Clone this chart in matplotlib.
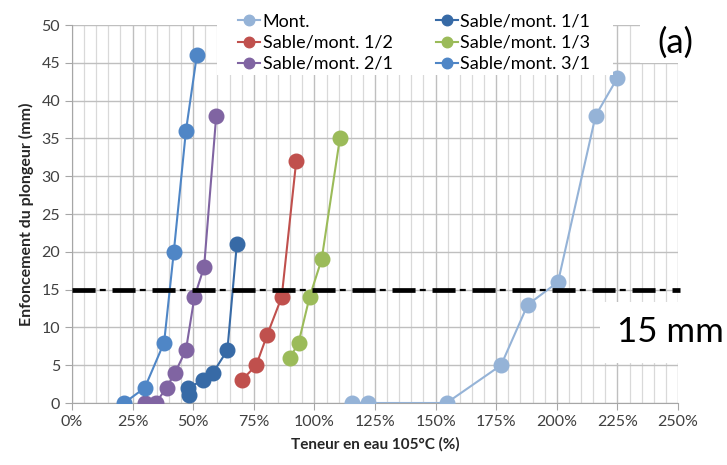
import matplotlib.pyplot as plt
from matplotlib.patches import Rectangle
from matplotlib.ticker import MultipleLocator, FuncFormatter

plt.rcParams['font.family'] = ['Lato', 'DejaVu Sans']
plt.rcParams['lines.scale_dashes'] = False

# data (water content in %, penetration in mm)
mont_x = [115.5, 122, 154.5, 177, 188, 200.5, 216, 225]
mont_y = [0, 0, 0, 5, 13, 16, 38, 43]

s12_x = [70, 76, 80.5, 86.5, 92.5]
s12_y = [3, 5, 9, 14, 32]

s21_x = [30, 34.5, 39, 42.5, 47, 50.5, 54.5, 59.5]
s21_y = [0, 0, 2, 4, 7, 14, 18, 38]

s11_x = [48.3, 47.9, 54, 58.2, 64.1, 68]
s11_y = [1, 2, 3, 4, 7, 21]

s13_x = [90, 93.5, 98, 103, 110.5]
s13_y = [6, 8, 14, 19, 35]

s31_x = [21.5, 30, 38, 42, 47, 51.5]
s31_y = [0, 2, 8, 20, 36, 46]

limit_mm = 15

series = [
    ('Mont.', mont_x, mont_y, '#95B3D7'),
    ('Sable/mont. 1/2', s12_x, s12_y, '#C0504D'),
    ('Sable/mont. 2/1', s21_x, s21_y, '#8064A2'),
    ('Sable/mont. 1/1', s11_x, s11_y, '#376AA6'),
    ('Sable/mont. 1/3', s13_x, s13_y, '#9BBB59'),
    ('Sable/mont. 3/1', s31_x, s31_y, '#4F86C6'),
]

W, H = 727, 465
fig = plt.figure(figsize=(W / 100, H / 100), dpi=100)
ax = fig.add_axes([72 / W, 1 - 403 / H, 606 / W, 378 / H])

handles = []
for name, x, y, c in series:
    h, = ax.plot(x, y, '-o', color=c, lw=1.5, ms=10.5, label=name, zorder=3)
    handles.append(h)

# 15 mm limit line (thick dashes + thin short dashes)
ax.plot([0, 251], [limit_mm, limit_mm], color='black', lw=3.4,
        linestyle=(0, (16.6, 12.2)), zorder=4, clip_on=False)
ax.plot([0, 251], [limit_mm, limit_mm], color='black', lw=1.6,
        linestyle=(8.8, (4.3, 24.5)), zorder=4, clip_on=False)

ax.set_xlim(0, 250)
ax.set_ylim(0, 50)
ax.xaxis.set_major_locator(MultipleLocator(25))
ax.xaxis.set_minor_locator(MultipleLocator(5))
ax.yaxis.set_major_locator(MultipleLocator(5))
ax.xaxis.set_major_formatter(FuncFormatter(lambda v, p: '%d%%' % v))

ax.grid(which='major', color='#BFBFBF', lw=1.0, zorder=0)
ax.grid(which='minor', axis='x', color='#D9D9D9', lw=0.9, zorder=0)
ax.set_axisbelow(True)

for s in ['top', 'right']:
    ax.spines[s].set_visible(False)
for s in ['left', 'bottom']:
    ax.spines[s].set_color('#A6A6A6')
ax.tick_params(which='major', length=5, color='#A6A6A6', labelsize=11.5, labelcolor='#404040')
ax.tick_params(which='minor', length=0)

ax.set_xlabel('Teneur en eau 105°C (%)', fontsize=11, fontweight='bold', color='#262626', labelpad=6)
ax.set_ylabel('Enfoncement du plongeur (mm)', fontsize=11.5, fontweight='bold', color='#262626', labelpad=5)

# white boxes hiding the grid behind legend and labels
for x0, y0, x1, y1 in [(217, 0, 613, 75), (640, 0, 727, 63), (600, 302, 727, 363)]:
    fig.patches.append(Rectangle((x0 / W, 1 - y1 / H), (x1 - x0) / W, (y1 - y0) / H,
                                 transform=fig.transFigure, fc='white', ec='none', zorder=2))

leg = fig.legend(handles, [h.get_label() for h in handles], ncol=2,
                 loc='upper left', bbox_to_anchor=(236 / W, 1 - 12 / H),
                 frameon=False, fontsize=13, handlelength=1.25, markerscale=0.72,
                 handletextpad=0.12, columnspacing=2.4, labelspacing=0.28,
                 borderpad=0.1, borderaxespad=0)
leg.set_zorder(5)

fig.text(675 / W, 1 - 43 / H, '(a)', fontsize=25, ha='center', va='center', zorder=6)
fig.text(617 / W, 1 - 332 / H, '15 mm', fontsize=25, ha='left', va='center', zorder=6)

fig.savefig('out.png', dpi=100)
